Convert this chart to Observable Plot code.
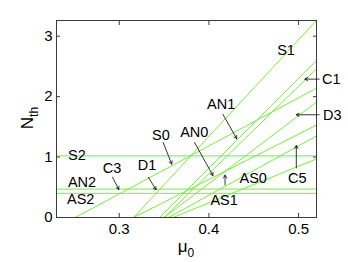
<!DOCTYPE html>
<html>
<head>
<meta charset="utf-8">
<script src="https://cdn.jsdelivr.net/npm/d3@7"></script>
<script src="https://cdn.jsdelivr.net/npm/@observablehq/plot@0.6"></script>
<style>
  html, body { margin: 0; padding: 0; background: #fff; }
  svg { overflow: visible; }
</style>
</head>
<body>
<div id="chart"></div>
<script>
// Sloped threshold lines: mu0 where N_th = 0, and N_th at the right edge (mu0 = 0.52)
const lineNames = ["S1", "AN1", "C1", "C3", "D3", "L6", "C5", "AS0"];
const lineZero  = [0.316, 0.345, 0.350, 0.251, 0.350, 0.316, 0.355, 0.360];
const lineRight = [3.26, 2.60, 2.46, 2.14, 1.91, 1.53, 1.35, 0.97];
// Horizontal threshold lines
const flatNames = ["S2", "AN2", "AS2"];
const flatValue = [1.02, 0.47, 0.40];
// Annotations: label text, label position (data units), arrow tail and tip
const labText = ["S2", "AN2", "AS2", "S1", "C3", "D1", "S0", "AN0", "AN1", "AS0", "AS1", "C5", "C1", "D3"];
const labX    = [0.2528, 0.2585, 0.2570, 0.486, 0.292, 0.331, 0.3465, 0.3837, 0.4136, 0.4494, 0.417, 0.4985, 0.5365, 0.5375];
const labY    = [1.03, 0.575, 0.30, 2.76, 0.81, 0.87, 1.36, 1.41, 1.88, 0.65, 0.29, 0.65, 2.29, 1.69];
const arrText = ["C3", "D1", "S0", "AN0", "AN1", "AS1", "C5", "C1", "D3"];
const arrX1   = [0.2925, 0.3325, 0.3490, 0.3840, 0.4155, 0.4180, 0.4975, 0.5230, 0.5230];
const arrY1   = [0.665, 0.665, 1.24, 1.24, 1.71, 0.54, 0.82, 2.29, 1.70];
const arrX2   = [0.2995, 0.3410, 0.3585, 0.4045, 0.4310, 0.4180, 0.4975, 0.5070, 0.4975];
const arrY2   = [0.465, 0.460, 0.885, 0.695, 1.305, 0.70, 1.19, 2.29, 1.70];

const X0 = 0.23, X1 = 0.52, Y0 = 0, Y1 = 3.26;

const segs = [];
lineNames.forEach((n, i) => {
  segs.push({name: n, x: lineZero[i], y: 0});
  segs.push({name: n, x: X1, y: lineRight[i]});
});
flatNames.forEach((n, i) => {
  segs.push({name: n, x: X0, y: flatValue[i]});
  segs.push({name: n, x: X1, y: flatValue[i]});
});
const labels = labText.map((t, i) => ({t, x: labX[i], y: labY[i]}));
const arrows = arrText.map((t, i) => ({t, x1: arrX1[i], y1: arrY1[i], x2: arrX2[i], y2: arrY2[i]}));

const green = "#76ee3c";
const frame = "#3a3a3a";
const font = "Liberation Sans, Arial, sans-serif";

const chart = Plot.plot({
  width: 348,
  height: 262,
  marginLeft: 56,
  marginRight: 32,
  marginTop: 20,
  marginBottom: 45,
  style: {fontFamily: font, fontSize: "15px", color: "#000", background: "#fff"},
  x: {domain: [X0, X1], ticks: [0.3, 0.4, 0.5], tickFormat: d3.format(".1f"), label: null},
  y: {domain: [Y0, Y1], ticks: [0, 1, 2, 3], tickFormat: d3.format("d"), label: null},
  marks: [
    Plot.line(segs, {x: "x", y: "y", z: "name", stroke: green, strokeWidth: 1, clip: true}),
    Plot.frame({stroke: frame, strokeWidth: 1}),
    Plot.axisX({ticks: [0.3, 0.4, 0.5], tickSize: -4, tickPadding: 10, stroke: frame, tickFormat: d3.format(".1f"), fontSize: 15, label: null}),
    Plot.axisX({anchor: "top", ticks: [0.3, 0.4, 0.5], tickSize: -4, tickFormat: () => "", stroke: frame, label: null}),
    Plot.axisY({ticks: [0, 1, 2, 3], tickSize: -4, tickPadding: 8, stroke: frame, tickFormat: d3.format("d"), fontSize: 15, label: null}),
    Plot.axisY({anchor: "right", ticks: [0, 1, 2, 3], tickSize: -4, tickFormat: () => "", stroke: frame, label: null}),
    Plot.arrow(arrows, {x1: "x1", y1: "y1", x2: "x2", y2: "y2", stroke: "#000", strokeWidth: 0.8, headLength: 6, bend: 0}),
    Plot.text(labels, {x: "x", y: "y", text: "t", fontSize: 14.5, fill: "#000", textAnchor: "middle"})
  ]
});

// axis titles as real text inside the svg
const svg = d3.select(chart);
const yl = svg.append("text")
  .attr("transform", "translate(33,118) rotate(-90)")
  .attr("text-anchor", "middle")
  .attr("font-family", font)
  .attr("font-size", 17);
yl.append("tspan").text("N");
yl.append("tspan").attr("font-size", 12).attr("dy", 5).text("th");

const xl = svg.append("text")
  .attr("x", 186).attr("y", 252)
  .attr("text-anchor", "middle")
  .attr("font-family", font)
  .attr("font-size", 17);
xl.append("tspan").text("μ");
xl.append("tspan").attr("font-size", 12).attr("dy", 5).text("0");

document.getElementById("chart").appendChild(chart);
</script>
</body>
</html>
